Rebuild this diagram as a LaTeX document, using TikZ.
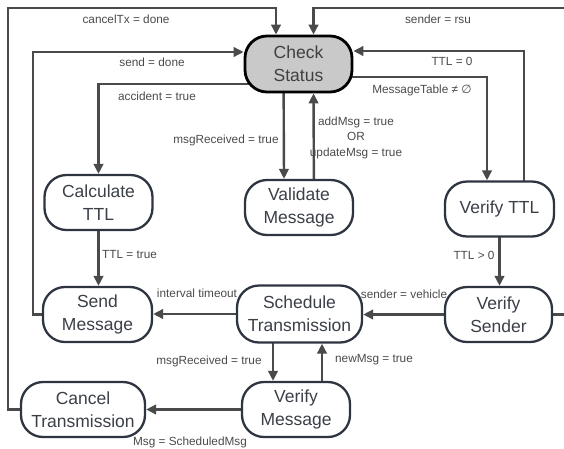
\documentclass[tikz,border=0pt]{standalone}
\usepackage{fontspec}
\setmainfont{Liberation Sans}
\newfontfamily\dejavu{DejaVu Sans}
\usetikzlibrary{arrows.meta,backgrounds}
\definecolor{lc}{HTML}{4A4A4A}
\definecolor{bc}{HTML}{2E3540}
\definecolor{tc}{HTML}{3B4048}
\definecolor{lblc}{HTML}{4A4A4A}
\definecolor{csfill}{HTML}{C9C9C9}
\begin{document}
\begin{tikzpicture}[x=1pt,y=-1pt,
  state/.style={draw=bc, line width=2.3pt, fill=white, rounded corners=22pt,
    minimum height=55pt, minimum width=108pt, align=center,
    font=\fontsize{17.5}{23}\selectfont, text=tc, inner sep=0pt},
  mainstate/.style={state, draw=black, line width=2.8pt, fill=csfill, text=black!75},
  conn/.style={draw=lc, line width=2.4pt, -{Triangle[length=10pt,width=9.5pt]}},
  plain/.style={draw=lc, line width=2.4pt},
  lbl/.style={font=\fontsize{11.8}{15.5}\selectfont, text=lblc, inner sep=1pt, align=center}]
\useasboundingbox (0,0) rectangle (564,448);

% states
\node[mainstate, minimum width=107pt, minimum height=56pt] (cs) at (298.5,64) {Check\\Status};
\node[state] (calc) at (98.5,202.5) {Calculate\\TTL};
\node[state] (val) at (299,207.5) {Validate\\Message};
\node[state, minimum width=109pt] (vttl) at (499.5,209) {Verify TTL};
\node[state, minimum width=109pt] (send) at (97.5,314.5) {Send\\Message};
\node[state, minimum width=125pt, minimum height=57pt] (sched) at (299.5,314) {Schedule\\Transmission};
\node[state, minimum width=107pt] (vs) at (498.5,314.5) {Verify\\Sender};
\node[state, minimum width=124pt] (cancel) at (83,409.5) {Cancel\\Transmission};
\node[state] (vm) at (296,409.5) {Verify\\Message};

% helper coordinates
\coordinate (p1) at (33,314.5);
\coordinate (q1) at (8,409.5);
\coordinate (q2) at (276,8);
\coordinate (r1) at (566,314.5);
\coordinate (r2) at (313.5,8);

\begin{scope}[on background layer]
\draw[conn] ([yshift=-20pt]cs.center) -| (calc.north);
\draw[conn] (send.center) -- (p1) |- ([yshift=12pt]cs.west);
\draw[conn] (cancel.center) -- (q1) |- (q2) -- ([xshift=-22.5pt]cs.north);
\draw[conn] ([xshift=-15pt]cs.center) -- ([xshift=-15pt]val.north);
\draw[conn] ([xshift=15pt]val.center) -- ([xshift=15pt]cs.south);
\draw[conn] ([yshift=-13pt]cs.center) -| ([xshift=-12.5pt]vttl.north);
\draw[conn] ([xshift=24.5pt]vttl.center) |- ([yshift=13pt]cs.east);
\draw[conn] (vs.center) -- (r1) |- (r2) -- ([xshift=15pt]cs.north);
\draw[conn] (calc.center) -- (calc.center |- send.north);
\draw[conn] (vttl.center) -- (vttl.center |- vs.north);
\draw[conn] (vs.center) -- (vs.center -| sched.east);
\draw[conn] (sched.center) -- (sched.center -| send.east);
\draw[conn] ([xshift=-26.5pt]sched.center) -- ([xshift=-26.5pt]sched.center |- vm.north);
\draw[conn] ([xshift=26pt]vm.center) -- ([xshift=26pt]vm.center |- sched.south);
\draw[conn] (vm.center) -- (vm.center -| cancel.east);
\end{scope}

% labels
\node[lbl] (l1) at (126,19) {cancelTx = done};
\node[lbl] (l2) at (152,62) {send = done};
\node[lbl] (l3) at (157,96) {accident = true};
\node[lbl] (l4) at (226,140) {msgReceived = true};
\node[lbl] (l5) at (356,137.5) {addMsg = true\\OR\\updateMsg = true};
\node[lbl] (l6) at (422,90) {MessageTable ≠ {\dejavu ∅}};
\node[lbl] (l7) at (452,61) {TTL = 0};
\node[lbl] (l8) at (438,19) {sender = rsu};
\node[lbl, anchor=west] (l9) at (101,254) {TTL = true};
\node[lbl] (l10) at (474,255) {TTL > 0};
\node[lbl] (l11) at (197,293) {interval timeout};
\node[lbl] (l12) at (404,294) {sender = vehicle};
\node[lbl] (l13) at (209,361) {msgReceived = true};
\node[lbl] (l14) at (374,360) {newMsg = true};
\node[lbl] (l15) at (190,442) {Msg = ScheduledMsg};
\end{tikzpicture}
\end{document}
